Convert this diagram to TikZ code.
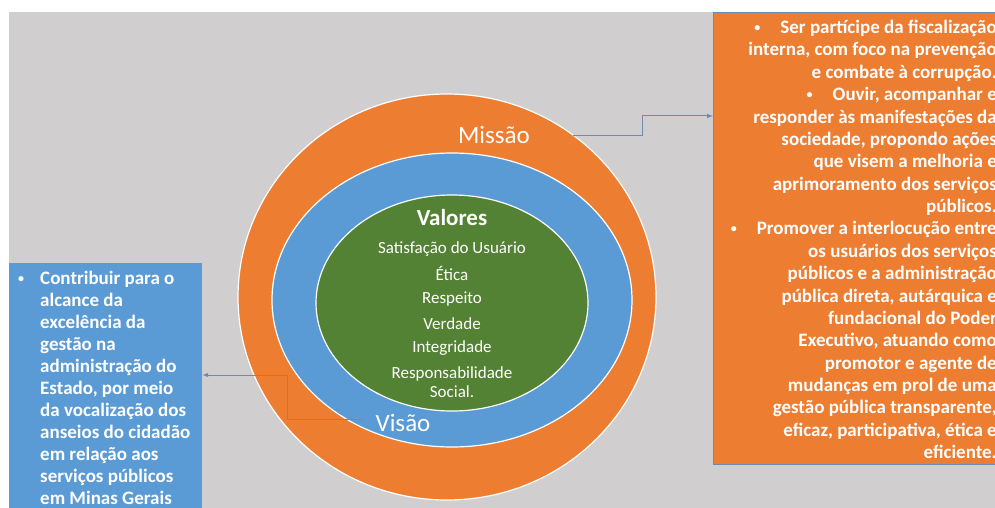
\documentclass[tikz,border=0pt]{standalone}
\usepackage{fontspec}
\setmainfont{Carlito}
\usepackage{tikz}
\definecolor{bggray}{HTML}{D0CECE}
\definecolor{offorange}{HTML}{ED7D31}
\definecolor{offblue}{HTML}{5B9BD5}
\definecolor{offgreen}{HTML}{548235}
\definecolor{connblue}{HTML}{6A8CB4}
\newcommand{\smallbul}{\raisebox{2.5pt}{\fontsize{12}{12}\selectfont •}}
\tikzset{ring/.style = {draw = white, line width = 1.2}}
\tikzset{ringlabel/.style = {text = white, inner sep = 0, font = \fontsize{25}{28}\selectfont}}
\tikzset{valtitle/.style = {text = white, inner sep = 0, font = \bfseries\fontsize{23}{26}\selectfont}}
\tikzset{valitem/.style = {text = white, inner sep = 0, align = center, font = \fontsize{17}{19}\selectfont}}
\tikzset{sidebox/.style = {rectangle, inner sep = 0, anchor = north west}}
\tikzset{sidetext/.style = {text = white, inner sep = 0, font = \bfseries\fontsize{19}{22.37}\selectfont}}
\tikzset{conn/.style = {draw = connblue, line width = 1, -latex}}

\begin{document}
\begin{tikzpicture}[x = 1pt, y = -1pt]
    \useasboundingbox (0, 0) rectangle (995, 508);
    \clip (0, 0) rectangle (995, 508);
    \fill [white] (0, 0) rectangle (995, 508);
    \fill [bggray] (9, 12) rectangle (995, 508);

    \draw [ring, fill = offorange] (447, 297) ellipse [x radius = 209, y radius = 203];
    \draw [ring, fill = offblue] (452, 300) ellipse [x radius = 180, y radius = 147];
    \draw [ring, fill = offgreen] (452, 303) ellipse [x radius = 136, y radius = 108];

    \node [ringlabel, minimum width = 158] (missao) at (494, 135) {Missão};
    \node [ringlabel, minimum width = 80] (visao) at (403, 423) {Visão};

    \node [valtitle] (valores) at (452, 218) {Valores};
    \node [valitem] (satisf) at (452, 249) {Satisfação do Usuário};
    \node [valitem] (etica) at (452, 273) {Ética};
    \node [valitem] (respeito) at (452, 299) {Respeito};
    \node [valitem] (verdade) at (452, 324) {Verdade};
    \node [valitem] (integr) at (452, 348) {Integridade};
    \node [valitem] (respons) at (452, 382) {Responsabilidade\\Social.};

    \node [sidebox, fill = offorange, draw = connblue, minimum width = 300, minimum height = 452] (missaobox) at (713, 12) {};
    \node [sidetext, align = right, anchor = north east] (missaotext) at (997, 20) {%
        \smallbul\hspace{20pt}Ser partícipe da fiscalização\\
        interna, com foco na prevenção\\
        e combate à corrupção.\\
        \smallbul\hspace{20pt}Ouvir, acompanhar e\\
        responder às manifestações da\\
        sociedade, propondo ações\\
        que visem a melhoria e\\
        aprimoramento dos serviços\\
        públicos.\\
        \smallbul\hspace{20pt}Promover a interlocução entre\\
        os usuários dos serviços\\
        públicos e a administração\\
        pública direta, autárquica e\\
        fundacional do Poder\\
        Executivo, atuando como\\
        promotor e agente de\\
        mudanças em prol de uma\\
        gestão pública transparente,\\
        eficaz, participativa, ética e\\
        eficiente.};

    \node [sidebox, fill = offblue, minimum width = 193, minimum height = 260] (visaobox) at (9, 263) {};
    \node [sidetext, align = left, anchor = north west, font = \bfseries\fontsize{19}{22}\selectfont] (visaotext) at (40, 271) {%
        \llap{\smallbul\hspace{16pt}}Contribuir para o\\
        alcance da\\
        excelência da\\
        gestão na\\
        administração do\\
        Estado, por meio\\
        da vocalização dos\\
        anseios do cidadão\\
        em relação aos\\
        serviços públicos\\
        em Minas Gerais};

    \coordinate (mbend) at (642, 116);
    \coordinate (vbend) at (287, 375);
    \draw [conn] (missao.east) -| (mbend) -- (missaobox.west |- mbend);
    \draw [conn] ([yshift = 4]visao.west) -| (vbend) -- (visaobox.east |- vbend);
\end{tikzpicture}
\end{document}
